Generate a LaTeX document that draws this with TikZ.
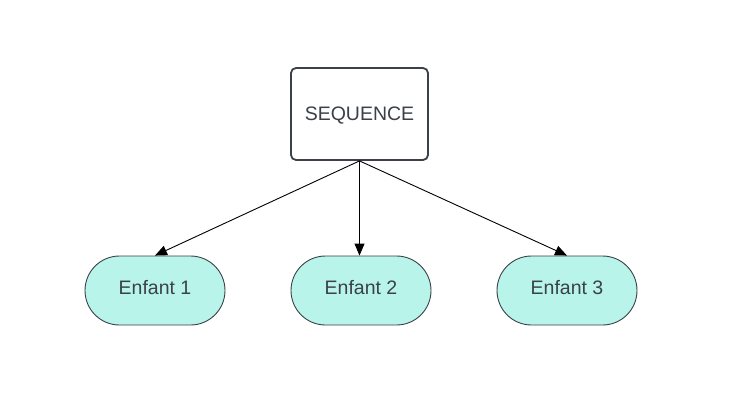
\documentclass[tikz,border=0pt]{standalone}
\usepackage{fontspec}
\setmainfont{Liberation Sans}
\usetikzlibrary{arrows.meta,shapes.misc}
\definecolor{txt}{HTML}{3A414A}
\definecolor{cfill}{HTML}{B8F4EA}
\tikzset{
  seqbox/.style={draw=txt, line width=1.8pt, rounded corners=5pt, fill=white,
    minimum width=137pt, minimum height=92pt, inner sep=0pt,
    text=txt, font=\fontsize{19.5}{23}\selectfont},
  child/.style={draw=txt, line width=0.9pt, rounded rectangle, fill=cfill,
    minimum width=140pt, minimum height=69pt, inner sep=0pt,
    text=txt, font=\fontsize{19.5}{23}\selectfont},
  lbl/.style={text=txt, font=\fontsize{19.5}{23}\selectfont, inner sep=0pt},
  conn/.style={draw=black, line width=0.9pt, -{Triangle[length=12pt,width=10pt]}}
}
\begin{document}
\begin{tikzpicture}[x=1pt,y=-1pt]
\useasboundingbox (0,0) rectangle (730,415);
\node[seqbox] (seq) at (359.5,114) {};
\node[lbl] (seqt) at (359.5,115.5) {SEQUENCE};
\node[child] (e1) at (155,290.5) {};
\node[child] (e2) at (361,290.5) {};
\node[child] (e3) at (567,290.5) {};
\node[lbl] (t1) at (155,288) {Enfant 1};
\node[lbl] (t2) at (361,288) {Enfant 2};
\node[lbl] (t3) at (567,288) {Enfant 3};
\draw[conn] (seq.south) -- (e1.north);
\draw[conn] (seq.south) -- (seq.south |- e2.north);
\draw[conn] (seq.south) -- (e3.north);
\end{tikzpicture}
\end{document}
